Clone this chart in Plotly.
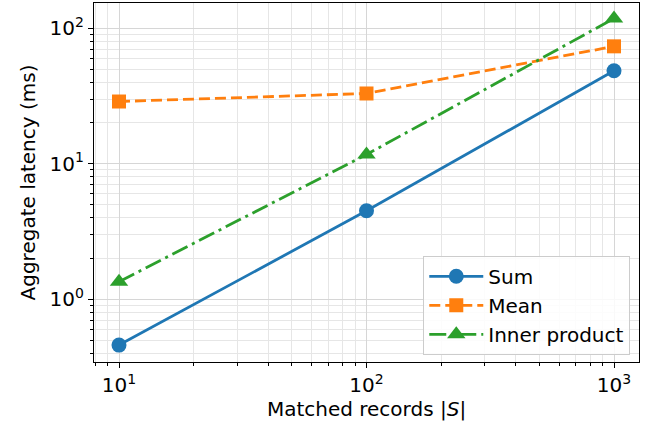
import plotly.graph_objects as go

# Data
records = [10, 100, 1000]
sum_ms = [0.46, 4.5, 48.5]
mean_ms = [28.8, 33.0, 73.5]
inner_ms = [1.35, 11.7, 118]

x_major = [10, 100, 1000]
x_major_text = ["10<sup>1</sup>", "10<sup>2</sup>", "10<sup>3</sup>"]
y_major = [1, 10, 100]
y_major_text = ["10<sup>0</sup>", "10<sup>1</sup>", "10<sup>2</sup>"]

x_minor = [8, 9] + [k * 10 for k in range(2, 10)] + [k * 100 for k in range(2, 10)]
y_minor = [k / 10 for k in range(3, 10)] + list(range(2, 10)) + [k * 10 for k in range(2, 10)]

blue = "#1f77b4"
orange = "#ff7f0e"
green = "#2ca02c"

FS = 20

fig = go.Figure()
fig.add_trace(go.Scatter(x=records, y=sum_ms, name="Sum", mode="lines+markers",
                         legendgroup="a",
                         line=dict(color=blue, width=2.8),
                         marker=dict(symbol="circle", size=15, color=blue)))
fig.add_trace(go.Scatter(x=records, y=mean_ms, name="Mean", mode="lines+markers",
                         legendgroup="b",
                         line=dict(color=orange, width=2.8, dash="11px,5px"),
                         marker=dict(symbol="square", size=14, color=orange)))
fig.add_trace(go.Scatter(x=records, y=inner_ms, name="Inner product", mode="lines+markers",
                         legendgroup="c",
                         line=dict(color=green, width=2.8, dash="17px,5px,3px,5px"),
                         marker=dict(symbol="triangle-up", size=16, color=green)))

axis_common = dict(
    type="log",
    showline=True, linecolor="black", linewidth=1.3, mirror=True,
    ticks="outside", ticklen=5, tickwidth=1.2, tickcolor="black",
    showgrid=True, gridcolor="#d6d6d6", gridwidth=1,
    zeroline=False,
    tickfont=dict(family="DejaVu Sans", size=FS, color="black"),
    tickmode="array",
)

fig.update_xaxes(**axis_common, range=[0.899, 3.101],
                 tickvals=x_major, ticktext=x_major_text,
                 minor=dict(tickmode="array", tickvals=x_minor, ticks="outside", ticklen=3,
                            tickwidth=1, tickcolor="black", showgrid=True,
                            gridcolor="#e6e6e6", gridwidth=1),
                 title=dict(text="Matched records |<i>S</i>|",
                            font=dict(family="DejaVu Sans", size=FS, color="black"),
                            standoff=4))
fig.update_yaxes(**axis_common, range=[-0.462, 2.186],
                 tickvals=y_major, ticktext=y_major_text,
                 minor=dict(tickmode="array", tickvals=y_minor, ticks="outside", ticklen=3,
                            tickwidth=1, tickcolor="black", showgrid=True,
                            gridcolor="#e6e6e6", gridwidth=1),
                 title=dict(text="Aggregate latency (ms)",
                            font=dict(family="DejaVu Sans", size=FS, color="black"),
                            standoff=8))

fig.update_layout(
    width=652, height=432,
    margin=dict(l=94, r=13, t=3, b=70),
    paper_bgcolor="white", plot_bgcolor="white",
    font=dict(family="DejaVu Sans", size=FS, color="black"),
    showlegend=True,
    legend=dict(x=0.984, y=0.02, xanchor="right", yanchor="bottom",
                bgcolor="rgba(255,255,255,0.85)", bordercolor="#cccccc", borderwidth=1,
                font=dict(family="DejaVu Sans", size=FS, color="black"),
                tracegroupgap=0, itemwidth=54),
)

fig.write_html("out.html", config={"displayModeBar": False},
               post_script="document.body.style.margin='0';")
